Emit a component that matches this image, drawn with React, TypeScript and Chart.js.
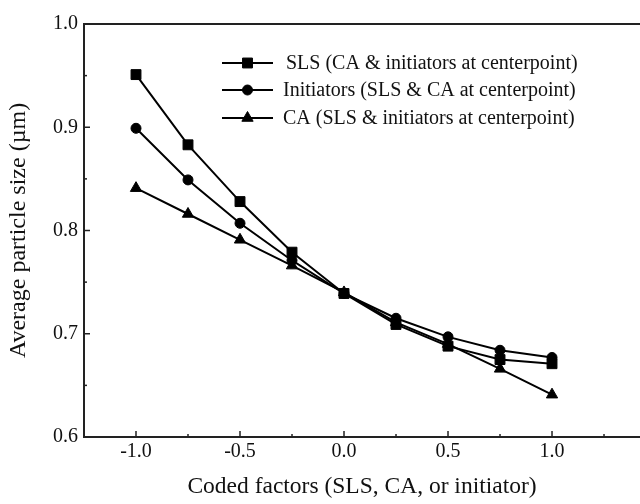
import React, { useEffect, useRef } from "react";
import { Chart, registerables } from "chart.js";

Chart.register(...registerables);

const xValues = [-1, -0.75, -0.5, -0.25, 0, 0.25, 0.5, 0.75, 1];
const slsValues = [0.951, 0.883, 0.828, 0.779, 0.739, 0.709, 0.688, 0.675, 0.671];
const initiatorValues = [0.899, 0.849, 0.807, 0.771, 0.739, 0.715, 0.697, 0.684, 0.677];
const caValues = [0.841, 0.816, 0.791, 0.766, 0.740, 0.711, 0.690, 0.666, 0.641];

const seriesLabels = [
  "SLS (CA & initiators at centerpoint)",
  "Initiators (SLS & CA at centerpoint)",
  "CA (SLS & initiators at centerpoint)",
];
const seriesStyles = ["rect", "circle", "triangle"];
const seriesRadius = [7, 5, 6.5];

const xMajorTicks = [-1, -0.5, 0, 0.5, 1];
const xMinorTicks = [-1.25, -0.75, -0.25, 0.25, 0.75, 1.25];
const yMajorTicks = [0.6, 0.7, 0.8, 0.9, 1.0];
const yMinorTicks = [0.65, 0.75, 0.85, 0.95];

const xTitle = "Coded factors (SLS, CA, or initiator)";
const yTitle = "Average particle size (\u00b5m)";

const FONT = "'Liberation Serif', 'Times New Roman', serif";
const INK = "#111";

function drawMarker(ctx: any, style: string, x: number, y: number, r: number) {
  ctx.beginPath();
  if (style === "rect") {
    const s = Math.SQRT1_2 * r;
    ctx.rect(x - s, y - s, 2 * s, 2 * s);
  } else if (style === "circle") {
    ctx.arc(x, y, r, 0, Math.PI * 2);
  } else {
    const w = (r * Math.sqrt(3)) / 2;
    ctx.moveTo(x, y - r);
    ctx.lineTo(x + w, y + r / 2);
    ctx.lineTo(x - w, y + r / 2);
    ctx.closePath();
  }
  ctx.fill();
  ctx.stroke();
}

const decorPlugin = {
  id: "decor",
  afterDraw(chart: any) {
    const ctx = chart.ctx;
    const { left, right, top, bottom } = chart.chartArea;
    const xs = chart.scales.x;
    const ys = chart.scales.y;
    ctx.save();
    ctx.strokeStyle = "#222";
    ctx.lineWidth = 2;
    ctx.beginPath();
    ctx.moveTo(left - 1, top);
    ctx.lineTo(right, top);
    ctx.stroke();
    ctx.lineWidth = 1.5;
    const tick = (x1: number, y1: number, x2: number, y2: number) => {
      ctx.beginPath();
      ctx.moveTo(x1, y1);
      ctx.lineTo(x2, y2);
      ctx.stroke();
    };
    xMajorTicks.forEach((v) => {
      const px = xs.getPixelForValue(v);
      tick(px, bottom, px, bottom - 6);
    });
    xMinorTicks.forEach((v) => {
      const px = xs.getPixelForValue(v);
      tick(px, bottom, px, bottom - 3);
    });
    yMajorTicks.forEach((v) => {
      const py = ys.getPixelForValue(v);
      tick(left, py, left + 6, py);
    });
    yMinorTicks.forEach((v) => {
      const py = ys.getPixelForValue(v);
      tick(left, py, left + 3, py);
    });

    ctx.fillStyle = INK;
    ctx.font = `23.5px ${FONT}`;
    ctx.textAlign = "center";
    ctx.textBaseline = "middle";
    ctx.fillText(xTitle, (left + right) / 2, 487);
    ctx.save();
    ctx.font = `24px ${FONT}`;
    ctx.translate(19, (top + bottom) / 2);
    ctx.rotate(-Math.PI / 2);
    ctx.fillText(yTitle, 0, 0);
    ctx.restore();

    const rowY = [63, 90, 118];
    chart.data.datasets.forEach((ds: any, i: number) => {
      const y = rowY[i];
      ctx.strokeStyle = "#000";
      ctx.lineWidth = 2;
      ctx.beginPath();
      ctx.moveTo(222, y);
      ctx.lineTo(273, y);
      ctx.stroke();
      ctx.fillStyle = "#000";
      ctx.lineWidth = 1;
      drawMarker(ctx, ds.pointStyle, 247.5, y, ds.pointRadius);
      ctx.fillStyle = INK;
      ctx.font = `20px ${FONT}`;
      ctx.textAlign = "left";
      ctx.textBaseline = "middle";
      ctx.fillText(ds.label, i === 0 ? 286 : 283, y + 1);
    });
    ctx.restore();
  },
};

export default function App() {
  const ref = useRef<HTMLCanvasElement | null>(null);
  useEffect(() => {
    if (!ref.current) return;
    const seriesValues = [slsValues, initiatorValues, caValues];
    const chart = new Chart(ref.current, {
      type: "line",
      data: {
        datasets: seriesValues.map((vals, i) => ({
          label: seriesLabels[i],
          data: xValues.map((x, j) => ({ x, y: vals[j] })),
          borderColor: "#000",
          backgroundColor: "#000",
          borderWidth: 2,
          pointStyle: seriesStyles[i] as any,
          pointRadius: seriesRadius[i],
          pointBorderWidth: 1,
          pointBackgroundColor: "#000",
          pointBorderColor: "#000",
          tension: 0,
        })),
      },
      options: {
        responsive: false,
        animation: false,
        layout: { autoPadding: false, padding: { top: 24, left: 0, right: 0, bottom: 0 } },
        plugins: {
          legend: { display: false },
          tooltip: { enabled: false },
        },
        scales: {
          x: {
            type: "linear",
            min: -1.25,
            max: 1.423,
            afterBuildTicks: (s: any) => {
              s.ticks = xMajorTicks.map((v) => ({ value: v }));
            },
            afterFit: (s: any) => {
              s.height = 67;
              s.paddingLeft = 0;
              s.paddingRight = 0;
            },
            grid: { display: false, drawTicks: false },
            border: { display: true, color: "#222", width: 2 },
            ticks: {
              padding: 3,
              color: INK,
              font: { family: FONT, size: 20 },
              callback: (v: any) => Number(v).toFixed(1),
              maxRotation: 0,
              autoSkip: false,
            },
          },
          y: {
            type: "linear",
            min: 0.6,
            max: 1.0,
            afterBuildTicks: (s: any) => {
              s.ticks = yMajorTicks.map((v) => ({ value: v }));
            },
            afterFit: (s: any) => {
              s.width = 84;
            },
            grid: { display: false, drawTicks: false },
            border: { display: true, color: "#222", width: 2 },
            ticks: {
              padding: 6,
              color: INK,
              font: { family: FONT, size: 20 },
              callback: (v: any) => Number(v).toFixed(1),
              autoSkip: false,
            },
          },
        },
      },
      plugins: [decorPlugin],
    });
    return () => chart.destroy();
  }, []);
  return (
    <div style={{ position: "fixed", left: 0, top: 0, width: 640, height: 504, background: "#fff" }}>
      <canvas ref={ref} width={640} height={504} style={{ width: 640, height: 504 }} />
    </div>
  );
}
